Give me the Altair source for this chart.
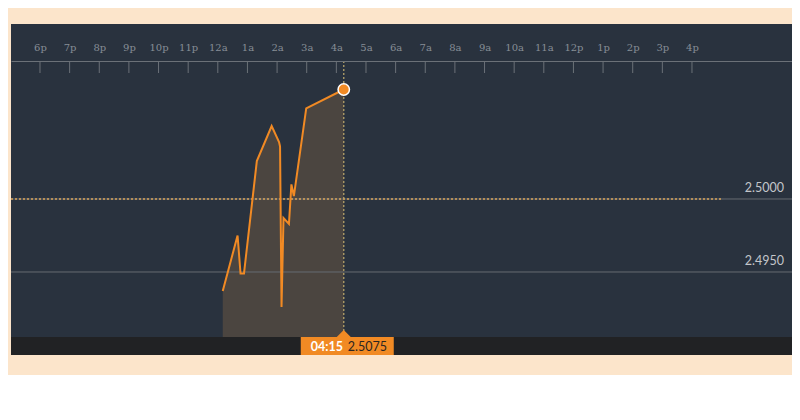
import altair as alt
import pandas as pd

# ---- data ----
times = ["00:10", "00:40", "00:46", "00:53", "01:19", "01:49", "02:04", "02:06",
         "02:09", "02:13", "02:24", "02:29", "02:34", "02:59", "04:15"]
values = [2.4937, 2.4975, 2.4949, 2.4949, 2.5026, 2.5050, 2.5039, 2.5036,
          2.4926, 2.4987, 2.4983, 2.5010, 2.5002, 2.5062, 2.5075]
tick_hours = list(range(-6, 17))
tick_labels = ["6p", "7p", "8p", "9p", "10p", "11p", "12a", "1a", "2a", "3a", "4a", "5a",
               "6a", "7a", "8a", "9a", "10a", "11a", "12p", "1p", "2p", "3p", "4p"]
level_values = [2.5000, 2.4950]
level_labels = ["2.5000", "2.4950"]
prev_close = 2.5000
session_end_hour = 17

# ---- layout / style ----
W, H = 781, 331
X_DOMAIN = [-6.9785, 19.375]
Y_DOMAIN = [2.489315, 2.511986]
AXIS_Y = 37
PLOT_BOTTOM = 313
ORANGE = "#f18a24"
PANEL = "#29323e"


def to_h(t):
    hh, mm = t.split(":")
    return int(hh) + int(mm) / 60


df = pd.DataFrame({"h": [to_h(t) for t in times], "v": values})
last = pd.DataFrame({"h": [to_h(times[-1])], "v": [values[-1]],
                     "t": [times[-1]], "lbl": [f"{values[-1]:.4f}"]})
ticks_df = pd.DataFrame({"h": tick_hours})
levels_df = pd.DataFrame({"v": level_values, "lbl": level_labels})
prev_df = pd.DataFrame({"h": [X_DOMAIN[0]], "h2": [session_end_hour], "v": [prev_close]})

label_js = "[" + ",".join(f"'{s}'" for s in tick_labels) + "]"
xs = alt.Scale(domain=X_DOMAIN, nice=False, zero=False)
ys = alt.Scale(domain=Y_DOMAIN, nice=False, zero=False)
x_axis = alt.Axis(orient="top", offset=-AXIS_Y, values=tick_hours, title=None,
                  labelExpr=f"{label_js}[datum.value + 6]", ticks=False, grid=False,
                  domainColor="#6b7178", domainWidth=1, labelColor="#878e96",
                  labelFont="DejaVu Serif", labelFontSize=10, labelPadding=9,
                  labelAngle=0, zindex=1)
x_enc = alt.X("h:Q", scale=xs, axis=x_axis)
y_enc = alt.Y("v:Q", scale=ys, axis=None)

area = alt.Chart(df).mark_area(color="#4b4540", opacity=1, interpolate="linear", clip=True).encode(
    x=x_enc, y=y_enc)

level_rules = alt.Chart(levels_df).mark_rule(color="#666b71", strokeWidth=1).encode(
    y=y_enc, x=alt.value(0), x2=alt.value(W))
level_text = alt.Chart(levels_df).mark_text(
    align="right", baseline="bottom", dy=-4, color="#c3c6ca", font="Lato", fontSize=12.5
).encode(y=y_enc, x=alt.value(W - 8), text="lbl:N")

prev_rule = alt.Chart(prev_df).mark_rule(color="#d9a458", strokeWidth=1.6, strokeDash=[2, 2]).encode(
    x=x_enc, x2="h2:Q", y=y_enc)

line = alt.Chart(df).mark_line(color=ORANGE, strokeWidth=2).encode(x=x_enc, y=y_enc)

tick_rules = alt.Chart(ticks_df).mark_rule(color="#6b7178", strokeWidth=1).encode(
    x=x_enc, y=alt.value(AXIS_Y), y2=alt.value(AXIS_Y + 12))

cross = alt.Chart(last).mark_rule(color="#b3a26a", strokeWidth=1.3, strokeDash=[2, 2]).encode(
    x=x_enc, y=alt.value(AXIS_Y), y2=alt.value(PLOT_BOTTOM))

pt = alt.Chart(last).mark_point(filled=True, fill=ORANGE, stroke="white", strokeWidth=1.5,
                                size=130, opacity=1).encode(x=x_enc, y=y_enc)

strip = alt.Chart(last).mark_rect(color="#212224").encode(
    x=alt.value(0), x2=alt.value(W), y=alt.value(PLOT_BOTTOM), y2=alt.value(H))

box = alt.Chart(last).mark_rect(color=ORANGE, xOffset=-43, x2Offset=50).encode(
    x=x_enc, x2=alt.X2("h"), y=alt.value(PLOT_BOTTOM), y2=alt.value(H))

tri = alt.Chart(last).mark_point(shape="M -1 0.5 L 0 -0.5 L 1 0.5 Z", size=196, filled=True,
                                 fill=ORANGE, opacity=1).encode(x=x_enc, y=alt.value(PLOT_BOTTOM - 3.5))

t_time = alt.Chart(last).mark_text(align="left", baseline="middle", dx=-33, color="white",
                                   font="Lato", fontSize=12.5, fontWeight="bold").encode(
    x=x_enc, y=alt.value((PLOT_BOTTOM + H) / 2 + 0.5), text="t:N")
t_val = alt.Chart(last).mark_text(align="left", baseline="middle", dx=4, color="#2a2522",
                                  font="Lato", fontSize=12.5).encode(
    x=x_enc, y=alt.value((PLOT_BOTTOM + H) / 2 + 0.5), text="lbl:N")

chart = alt.layer(area, level_rules, prev_rule, line, tick_rules, cross, pt, level_text,
                  strip, box, tri, t_time, t_val).properties(
    width=W, height=H,
    padding={"left": 3, "top": 16, "right": 0, "bottom": 20},
    autosize=alt.AutoSizeParams(type="none"),
    background="#fce5cb",
).configure_view(fill=PANEL, stroke=None)

chart.save("out.html", embed_options={"renderer": "svg", "actions": False})
